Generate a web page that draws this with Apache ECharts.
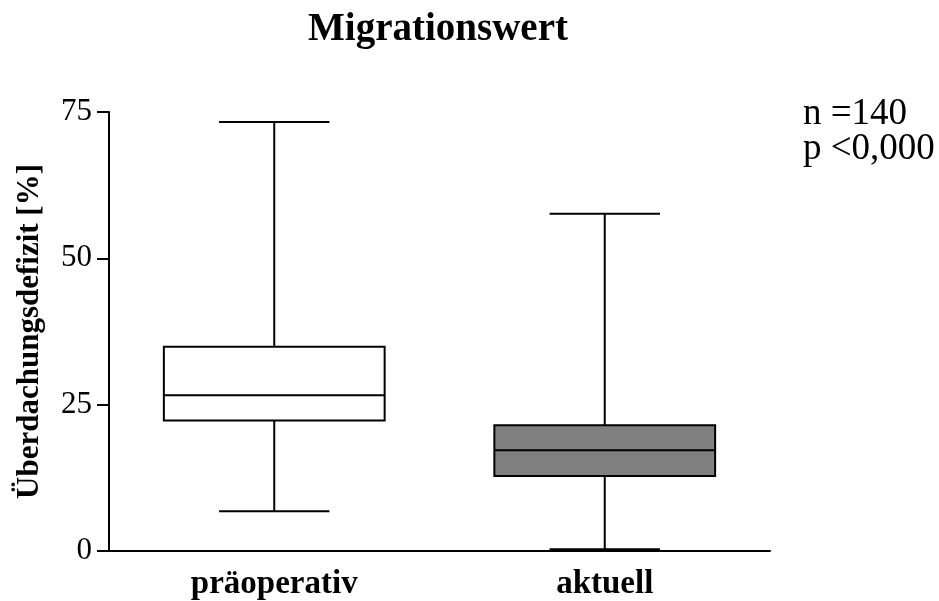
<!DOCTYPE html>
<html>
<head>
<meta charset="utf-8">
<script src="https://cdn.jsdelivr.net/npm/echarts@6/dist/echarts.min.js"></script>
<style>html,body{margin:0;padding:0;background:#fff;}#c{width:939px;height:601px;}</style>
</head>
<body>
<div id="c"></div>
<script>
var categories = ['präoperativ', 'aktuell'];
// [min, Q1, median, Q3, max]
var boxPraeoperativ = [6.8, 22.3, 26.6, 34.9, 73.3];
var boxAktuell = [0.3, 12.8, 17.2, 21.5, 57.6];
var boxFills = ['#ffffff', '#808080'];
var yTicks = [0, 25, 50, 75];
var boxes = [boxPraeoperativ, boxAktuell];

var chart = echarts.init(document.getElementById('c'));
var FONT = 'Liberation Serif';
chart.setOption({
  animation: false,
  backgroundColor: '#fff',
  grid: {left: 109, right: 169, top: 112, bottom: 49, containLabel: false},
  graphic: [
    {type: 'text', x: 438, y: 30, style: {text: 'Migrationswert', font: 'bold 39px "Liberation Serif"', fill: '#000', align: 'center', verticalAlign: 'middle'}},
    {type: 'text', x: 803, y: 114, style: {text: 'n =140', font: '37px "Liberation Serif"', fill: '#000', align: 'left', verticalAlign: 'middle'}},
    {type: 'text', x: 803, y: 149, style: {text: 'p <0,000', font: '37px "Liberation Serif"', fill: '#000', align: 'left', verticalAlign: 'middle'}}
  ],
  xAxis: {
    type: 'category', data: categories, boundaryGap: true,
    axisLine: {lineStyle: {color: '#000', width: 2}},
    axisTick: {show: false},
    axisLabel: {color: '#000', fontFamily: FONT, fontWeight: 'bold', fontSize: 33, margin: 17}
  },
  yAxis: {
    type: 'value', min: 0, max: 75, interval: 25,
    name: 'Überdachungsdefizit [%]', nameLocation: 'middle', nameGap: 64,
    nameTextStyle: {color: '#000', fontFamily: FONT, fontWeight: 'bold', fontSize: 31},
    axisLine: {show: true, lineStyle: {color: '#000', width: 2}},
    axisTick: {show: true, length: 12, inside: false, lineStyle: {color: '#000', width: 2}},
    axisLabel: {color: '#000', fontFamily: FONT, fontSize: 31, margin: 17},
    splitLine: {show: false}
  },
  series: [{
    type: 'custom',
    data: boxes.map(function (b, i) { return [i].concat(b); }),
    encode: {x: 0, y: [1, 2, 3, 4, 5]},
    renderItem: function (params, api) {
      var idx = api.value(0);
      var vals = [api.value(1), api.value(2), api.value(3), api.value(4), api.value(5)];
      var band = api.size([1, 0])[0];
      var bw = band * 0.668;
      var cw = bw / 2;
      var cx = api.coord([idx, 0])[0];
      var y = vals.map(function (v) { return api.coord([idx, v])[1]; });
      var ls = {stroke: '#000', lineWidth: 2};
      return {
        type: 'group',
        children: [
          {type: 'line', shape: {x1: cx, y1: y[4], x2: cx, y2: y[3]}, style: ls},
          {type: 'line', shape: {x1: cx, y1: y[1], x2: cx, y2: y[0]}, style: ls},
          {type: 'line', shape: {x1: cx - cw / 2, y1: y[4], x2: cx + cw / 2, y2: y[4]}, style: ls},
          {type: 'line', shape: {x1: cx - cw / 2, y1: y[0], x2: cx + cw / 2, y2: y[0]}, style: ls},
          {type: 'rect', shape: {x: cx - bw / 2, y: y[3], width: bw, height: y[1] - y[3]}, style: {fill: boxFills[idx], stroke: '#000', lineWidth: 2}},
          {type: 'line', shape: {x1: cx - bw / 2, y1: y[2], x2: cx + bw / 2, y2: y[2]}, style: ls}
        ]
      };
    }
  }]
});
</script>
</body>
</html>
